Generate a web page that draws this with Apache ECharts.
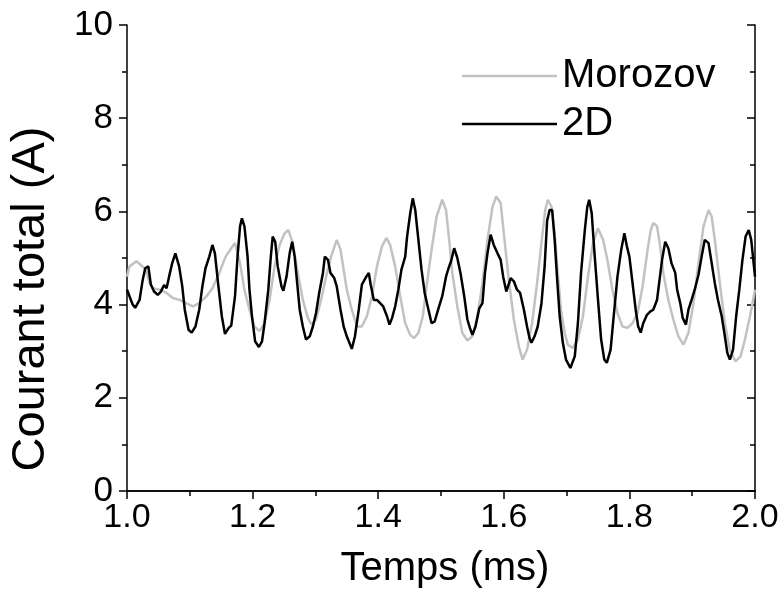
<!DOCTYPE html>
<html>
<head>
<meta charset="utf-8">
<script src="https://cdn.jsdelivr.net/npm/echarts@6/dist/echarts.min.js"></script>
<style>
  html, body { margin: 0; padding: 0; background: #fff; }
  #chart { width: 782px; height: 596px; }
</style>
</head>
<body>
<div id="chart"></div>
<script>
  // Morozov (gris)
  var tMorozov = [1.000, 1.004, 1.015, 1.022, 1.030, 1.036, 1.041, 1.052, 1.063, 1.073, 1.084, 1.094, 1.105, 1.115, 1.126, 1.136, 1.147, 1.157, 1.166, 1.172,
    1.180, 1.187, 1.195, 1.203, 1.211, 1.219, 1.227, 1.235, 1.243, 1.251, 1.257, 1.264, 1.272, 1.280, 1.288, 1.294, 1.301, 1.309, 1.317, 1.325,
    1.334, 1.340, 1.345, 1.350, 1.358, 1.366, 1.374, 1.382, 1.390, 1.398, 1.406, 1.413, 1.419, 1.427, 1.435, 1.443, 1.451, 1.457, 1.464, 1.471,
    1.477, 1.485, 1.493, 1.502, 1.508, 1.513, 1.518, 1.526, 1.534, 1.542, 1.550, 1.558, 1.566, 1.574, 1.582, 1.588, 1.595, 1.600, 1.608, 1.616,
    1.624, 1.630, 1.637, 1.645, 1.653, 1.661, 1.666, 1.670, 1.676, 1.681, 1.686, 1.691, 1.697, 1.702, 1.710, 1.718, 1.726, 1.734, 1.742, 1.750,
    1.758, 1.765, 1.773, 1.781, 1.789, 1.797, 1.805, 1.813, 1.821, 1.829, 1.834, 1.838, 1.844, 1.849, 1.854, 1.862, 1.870, 1.878, 1.886, 1.894,
    1.902, 1.910, 1.918, 1.926, 1.931, 1.936, 1.944, 1.952, 1.960, 1.969, 1.977, 1.984, 1.992, 2.000];
  var vMorozov = [4.60, 4.82, 4.93, 4.85, 4.75, 4.46, 4.35, 4.32, 4.25, 4.14, 4.10, 4.03, 3.96, 4.03, 4.17, 4.35, 4.68, 5.03, 5.21, 5.32,
    4.89, 4.32, 3.89, 3.53, 3.43, 3.60, 4.10, 4.82, 5.28, 5.53, 5.60, 5.32, 4.68, 4.10, 3.71, 3.57, 3.68, 4.10, 4.60, 5.03,
    5.39, 5.18, 4.75, 4.32, 3.89, 3.53, 3.53, 3.75, 4.18, 4.82, 5.25, 5.43, 5.28, 4.82, 4.18, 3.60, 3.35, 3.28, 3.39, 3.75,
    4.39, 5.18, 5.89, 6.25, 6.03, 5.39, 4.68, 3.96, 3.39, 3.23, 3.32, 3.75, 4.46, 5.39, 6.10, 6.32, 6.18, 5.53, 4.53, 3.68,
    3.10, 2.82, 3.03, 3.60, 4.46, 5.46, 6.03, 6.25, 6.10, 5.53, 4.68, 3.89, 3.39, 3.14, 3.07, 3.25, 3.75, 4.60, 5.32, 5.64,
    5.39, 4.96, 4.32, 3.82, 3.53, 3.50, 3.60, 3.82, 4.39, 5.18, 5.60, 5.75, 5.68, 5.25, 4.68, 4.10, 3.68, 3.32, 3.14, 3.39,
    4.03, 4.89, 5.68, 6.03, 5.89, 5.39, 4.46, 3.60, 3.03, 2.78, 2.89, 3.25, 3.75, 4.32];

  // 2D (noir)
  var t2D = [1.000, 1.004, 1.009, 1.013, 1.020, 1.025, 1.029, 1.034, 1.038, 1.043, 1.049, 1.054, 1.059, 1.063, 1.067, 1.072, 1.077, 1.083, 1.088, 1.092,
    1.098, 1.103, 1.109, 1.115, 1.120, 1.125, 1.128, 1.131, 1.136, 1.140, 1.145, 1.151, 1.156, 1.162, 1.166, 1.172, 1.176, 1.180, 1.183, 1.187,
    1.192, 1.195, 1.199, 1.204, 1.210, 1.215, 1.219, 1.225, 1.229, 1.232, 1.236, 1.240, 1.246, 1.249, 1.254, 1.259, 1.263, 1.267, 1.271, 1.275,
    1.280, 1.285, 1.291, 1.296, 1.301, 1.306, 1.312, 1.315, 1.320, 1.324, 1.330, 1.334, 1.340, 1.345, 1.350, 1.358, 1.363, 1.369, 1.374, 1.377,
    1.381, 1.385, 1.388, 1.393, 1.398, 1.403, 1.408, 1.414, 1.418, 1.422, 1.427, 1.432, 1.437, 1.443, 1.446, 1.451, 1.455, 1.459, 1.464, 1.469,
    1.474, 1.480, 1.485, 1.490, 1.496, 1.502, 1.508, 1.512, 1.516, 1.521, 1.526, 1.531, 1.537, 1.542, 1.546, 1.550, 1.555, 1.561, 1.566, 1.570,
    1.574, 1.579, 1.584, 1.590, 1.595, 1.599, 1.604, 1.611, 1.616, 1.621, 1.626, 1.632, 1.637, 1.641, 1.644, 1.649, 1.654, 1.660, 1.665, 1.669,
    1.673, 1.677, 1.681, 1.685, 1.689, 1.694, 1.699, 1.706, 1.713, 1.718, 1.723, 1.729, 1.733, 1.736, 1.740, 1.744, 1.750, 1.755, 1.760, 1.764,
    1.770, 1.775, 1.781, 1.787, 1.792, 1.796, 1.800, 1.805, 1.810, 1.814, 1.818, 1.822, 1.828, 1.833, 1.838, 1.844, 1.848, 1.852, 1.857, 1.862,
    1.867, 1.873, 1.876, 1.881, 1.885, 1.890, 1.894, 1.899, 1.904, 1.910, 1.915, 1.920, 1.926, 1.931, 1.936, 1.941, 1.947, 1.952, 1.956, 1.960,
    1.965, 1.970, 1.975, 1.980, 1.985, 1.990, 1.994, 2.000];
  var v2D = [4.32, 4.18, 4.00, 3.93, 4.10, 4.53, 4.78, 4.82, 4.43, 4.28, 4.21, 4.28, 4.42, 4.35, 4.60, 4.89, 5.10, 4.82, 4.39, 3.89,
    3.46, 3.40, 3.53, 3.89, 4.39, 4.78, 4.75, 5.03, 5.28, 5.10, 4.46, 3.75, 3.37, 3.50, 3.55, 4.18, 5.03, 5.68, 5.85, 5.68,
    5.03, 4.32, 3.75, 3.21, 3.09, 3.21, 3.60, 4.32, 5.03, 5.46, 5.35, 4.82, 4.39, 4.30, 4.60, 5.10, 5.35, 5.03, 4.46, 3.89,
    3.53, 3.25, 3.32, 3.53, 3.82, 4.25, 4.68, 5.03, 4.96, 4.68, 4.57, 4.39, 3.89, 3.53, 3.32, 3.05, 3.32, 3.89, 4.43, 4.39,
    4.60, 4.68, 4.43, 4.10, 4.10, 4.03, 3.96, 3.75, 3.57, 3.71, 3.96, 4.32, 4.75, 5.03, 5.46, 5.96, 6.28, 6.03, 5.39, 4.75,
    4.25, 3.89, 3.60, 3.64, 3.92, 4.18, 4.60, 4.78, 4.93, 5.21, 5.00, 4.68, 4.18, 3.68, 3.50, 3.35, 3.53, 3.92, 4.03, 4.68,
    5.10, 5.50, 5.28, 5.10, 4.96, 4.60, 4.28, 4.57, 4.50, 4.32, 4.25, 3.89, 3.53, 3.28, 3.18, 3.32, 3.53, 4.03, 4.82, 5.80,
    6.03, 6.03, 5.39, 4.53, 3.75, 3.18, 2.82, 2.64, 2.89, 3.60, 4.68, 5.60, 6.10, 6.25, 5.96, 5.18, 4.10, 3.25, 2.82, 2.75,
    3.03, 3.75, 4.60, 5.18, 5.53, 5.25, 5.03, 4.46, 3.89, 3.53, 3.40, 3.60, 3.78, 3.85, 3.89, 4.10, 4.53, 4.96, 5.35, 5.21,
    4.89, 4.68, 4.32, 4.03, 3.71, 3.57, 3.89, 4.10, 4.32, 4.64, 5.03, 5.39, 5.32, 4.89, 4.46, 4.10, 3.75, 3.32, 2.96, 2.82,
    3.03, 3.75, 4.32, 4.96, 5.46, 5.60, 5.39, 4.60];

  var xTicks = { min: 1.0, max: 2.0, interval: 0.2 };
  var yTicks = { min: 0, max: 10, interval: 2 };

  function zip(t, v) {
    var out = [];
    for (var i = 0; i < t.length; i++) out.push([t[i], v[i]]);
    return out;
  }

  var font = 'Liberation Sans, Arial, sans-serif';
  var lineStyle = { color: '#000', width: 1.5 };

  var chart = echarts.init(document.getElementById('chart'));
  chart.setOption({
    animation: false,
    backgroundColor: '#fff',
    grid: { left: 125, top: 25, right: 27, bottom: 105 },
    legend: {
      orient: 'vertical',
      left: 462,
      top: 56,
      icon: 'rect',
      itemWidth: 95,
      itemHeight: 2.5,
      itemGap: 8,
      padding: 0,
      textStyle: { fontFamily: font, fontSize: 40, color: '#000' },
      data: ['Morozov', '2D']
    },
    xAxis: [{
      type: 'value',
      position: 'bottom',
      min: xTicks.min, max: xTicks.max, interval: xTicks.interval,
      name: 'Temps (ms)',
      nameLocation: 'middle',
      nameGap: 58,
      nameTextStyle: { fontFamily: font, fontSize: 40, color: '#000', padding: [0, 0, 0, 8] },
      axisLine: { lineStyle: lineStyle },
      axisTick: { length: 8, lineStyle: lineStyle },
      minorTick: { show: true, splitNumber: 2, length: 5, lineStyle: lineStyle },
      axisLabel: {
        fontFamily: font, fontSize: 34, color: '#000', margin: 10,
        formatter: function (v) { return v.toFixed(1); }
      },
      splitLine: { show: false }
    }, {
      type: 'value',
      position: 'top',
      min: xTicks.min, max: xTicks.max, interval: xTicks.interval,
      axisLine: { lineStyle: lineStyle },
      axisTick: { inside: true, length: 8, lineStyle: lineStyle },
      minorTick: { show: true, splitNumber: 2, length: 5, lineStyle: lineStyle },
      axisLabel: { show: false },
      splitLine: { show: false }
    }],
    yAxis: [{
      type: 'value',
      position: 'left',
      min: yTicks.min, max: yTicks.max, interval: yTicks.interval,
      name: 'Courant total (A)',
      nameLocation: 'middle',
      nameGap: 72,
      nameTextStyle: { fontFamily: font, fontSize: 47, color: '#000', padding: [0, 82, 0, 0] },
      axisLine: { lineStyle: lineStyle },
      axisTick: { length: 8, lineStyle: lineStyle },
      minorTick: { show: true, splitNumber: 2, length: 5, lineStyle: lineStyle },
      axisLabel: { fontFamily: font, fontSize: 35, color: '#000', margin: 14 },
      splitLine: { show: false }
    }, {
      type: 'value',
      position: 'right',
      min: yTicks.min, max: yTicks.max, interval: yTicks.interval,
      axisLine: { lineStyle: lineStyle },
      axisTick: { inside: true, length: 8, lineStyle: lineStyle },
      minorTick: { show: true, splitNumber: 2, length: 5, lineStyle: lineStyle },
      axisLabel: { show: false },
      splitLine: { show: false }
    }],
    series: [{
      name: 'Morozov',
      type: 'line',
      xAxisIndex: 0, yAxisIndex: 0,
      showSymbol: false,
      itemStyle: { color: '#c2c2c2' },
      lineStyle: { color: '#c2c2c2', width: 2.5 },
      data: zip(tMorozov, vMorozov)
    }, {
      name: '2D',
      type: 'line',
      xAxisIndex: 0, yAxisIndex: 0,
      showSymbol: false,
      itemStyle: { color: '#000' },
      lineStyle: { color: '#000', width: 2.5 },
      data: zip(t2D, v2D)
    }]
  });
</script>
</body>
</html>
